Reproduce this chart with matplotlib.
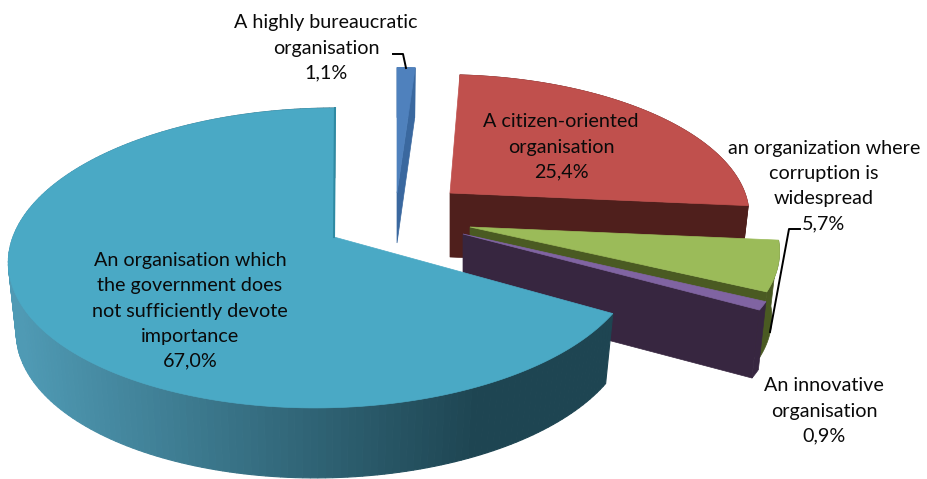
import numpy as np
import matplotlib
matplotlib.use("Agg")
import matplotlib.pyplot as plt
from matplotlib.colors import to_rgb

shares = [1.1, 25.4, 5.7, 0.9, 67.0]
value_labels = ["1,1%", "25,4%", "5,7%", "0,9%", "67,0%"]
names = [
    "A highly bureaucratic\norganisation",
    "A citizen-oriented\norganisation",
    "an organization where\ncorruption is\nwidespread",
    "An innovative\norganisation",
    "An organisation which\nthe government does\nnot sufficiently devote\nimportance",
]
top_colors = ["#4f81bd", "#c0504d", "#9bbb59", "#8064a2", "#4aa9c5"]
wall_colors = ["#3a689f", "#4f1f1c", "#4a5a22", "#372640", "#1f4653"]

# exploded placement of each slice, in pixels
apex_xy = [(397, 193), (450, 193), (470, 227), (463, 234), (334, 237)]
centre_x = [397, 450, 470, 463, 325]
radius_x = [300, 295, 305, 316, 312]
radius_y = [143, 135, 140, 146, 147]
shear = [0, -8, -10, 0, 10]
depth = [50, 64, 66, 68, 70]
label_xy = [(326, 48), (561, 147), (824, 186), (824, 411), (190, 311)]

PERSP = 0.14
TAPER = 0.975


def rim(i, theta, drop=0.0, taper=1.0):
    u, v = np.sin(theta), np.cos(theta)
    x = centre_x[i] + taper * (radius_x[i] * u / (1 + PERSP * v) + shear[i] * v)
    y = apex_xy[i][1] + drop - radius_y[i] * v / (1 + PERSP * v)
    return x, y


fig = plt.figure(figsize=(9.28, 4.79), dpi=100)
ax = fig.add_axes([0, 0, 1, 1])
ax.set_xlim(0, 928)
ax.set_ylim(479, 0)
ax.axis("off")

edges = np.radians(np.concatenate([[0], np.cumsum(shares)]) / sum(shares) * 360)

for i in range(len(shares)):
    theta = np.linspace(edges[i], edges[i + 1], 200)
    ax_, ay_ = apex_xy[i]
    h = depth[i]
    xt, yt = rim(i, theta)
    xb, yb = rim(i, theta, h, TAPER)

    # cut face at the clockwise end of the slice (not visible on the big one)
    if i < 4:
        ex, ey = rim(i, theta[-1])
        ebx, eby = rim(i, theta[-1], h, TAPER)
        ax.fill([ax_, ex, ebx, ax_], [ay_, ey, eby, ay_ + h],
                color=wall_colors[i], lw=0.5)

    # outer wall
    if i == 4:
        # shaded strip by strip, lighter towards the left
        dark = np.array(to_rgb("#1e4552"))
        light = np.array(to_rgb("#4f9ab4"))
        for j in range(len(theta) - 1):
            f = np.clip((480 - xt[j]) / 460, 0, 1)
            c = dark + (light - dark) * f
            ax.fill([xt[j], xt[j + 1], xb[j + 1], xb[j]],
                    [yt[j], yt[j + 1], yb[j + 1], yb[j]], color=c, lw=0.8)
    else:
        ax.fill(np.r_[xt, xb[::-1]], np.r_[yt, yb[::-1]],
                color=wall_colors[i], lw=0.5)

    # top face
    ax.fill(np.r_[ax_, xt], np.r_[ay_, yt], color=top_colors[i], lw=0.5)

    if i == 4:
        ax.plot([ax_, xt[-1]], [ay_, yt[-1]], color="#2f8aa3", lw=1.5)

# leader lines
ax.plot([393, 403, 406], [54, 54, 68], color="black", lw=1.4)
ax.plot([800, 789, 770], [229, 229, 332], color="black", lw=1.4)

for i in range(len(shares)):
    ax.text(label_xy[i][0], label_xy[i][1], names[i] + "\n" + value_labels[i],
            ha="center", va="center", multialignment="center",
            family="Lato", fontsize=14.2, color="#0a0a0a", linespacing=1.58)

fig.savefig("out.png", dpi=100)
